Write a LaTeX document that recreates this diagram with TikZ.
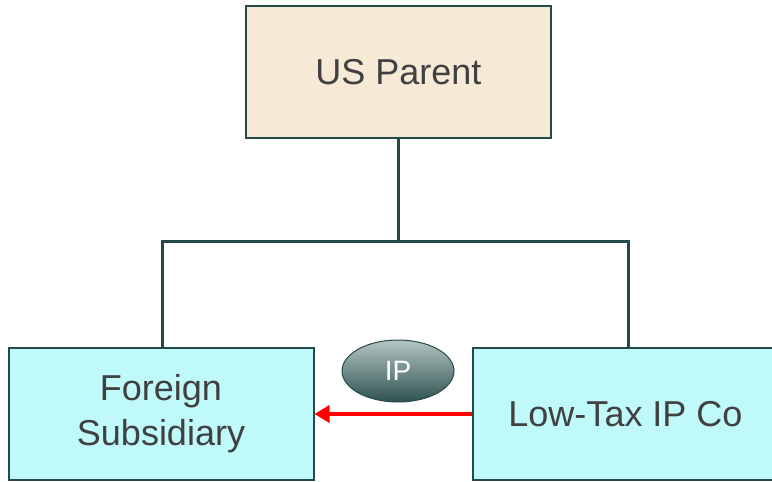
\documentclass[tikz,border=0pt]{standalone}
\usepackage{fontspec}
\setmainfont{Liberation Sans}
\usetikzlibrary{arrows.meta,shapes.geometric}
\definecolor{linec}{HTML}{234A48}
\definecolor{beigebox}{HTML}{F6E9D6}
\definecolor{cyanbox}{HTML}{BFF9FA}
\definecolor{txtc}{HTML}{404040}
\definecolor{iptop}{HTML}{B4C6C3}
\definecolor{ipbot}{HTML}{2E5250}
\begin{document}
\begin{tikzpicture}[x=1pt,y=-1pt,
  box/.style={draw=linec, line width=2pt, minimum width=305pt, minimum height=132pt,
    inner sep=0pt, font=\fontsize{36}{45}\selectfont, text=txtc, align=center},
  conn/.style={draw=linec, line width=3pt},
  flow/.style={draw=red, line width=4pt, -{Triangle[length=15pt,width=17pt]}},
  badge/.style={ellipse, draw=linec, line width=1pt, minimum width=112pt, minimum height=62pt,
    top color=iptop, bottom color=ipbot, text=white, inner sep=0pt,
    font=\fontsize{28}{32}\selectfont}]
\clip (0,0) rectangle (772,482);
\useasboundingbox (0,0) rectangle (772,482);
\fill[white] (0,0) rectangle (772,482);
\node[box, fill=beigebox] (parent) at (398.5,72) {US Parent};
\node[box, fill=cyanbox] (fs) at (161,414) {\raisebox{-5pt}{\begin{tabular}{@{}c@{}}Foreign\\Subsidiary\end{tabular}}};
\node[box, fill=cyanbox] (low) at (625.5,414) {Low-Tax IP Co};
\coordinate (j) at (398.5,241);
\draw[conn] (parent.south) -- (j);
\draw[conn] ([xshift=1pt]fs.north) |- (j) -| ([xshift=2.5pt]low.north);
\node[badge] (ip) at (398,371) {IP};
\draw[flow] (low.west) -- (fs.east);
\end{tikzpicture}
\end{document}
